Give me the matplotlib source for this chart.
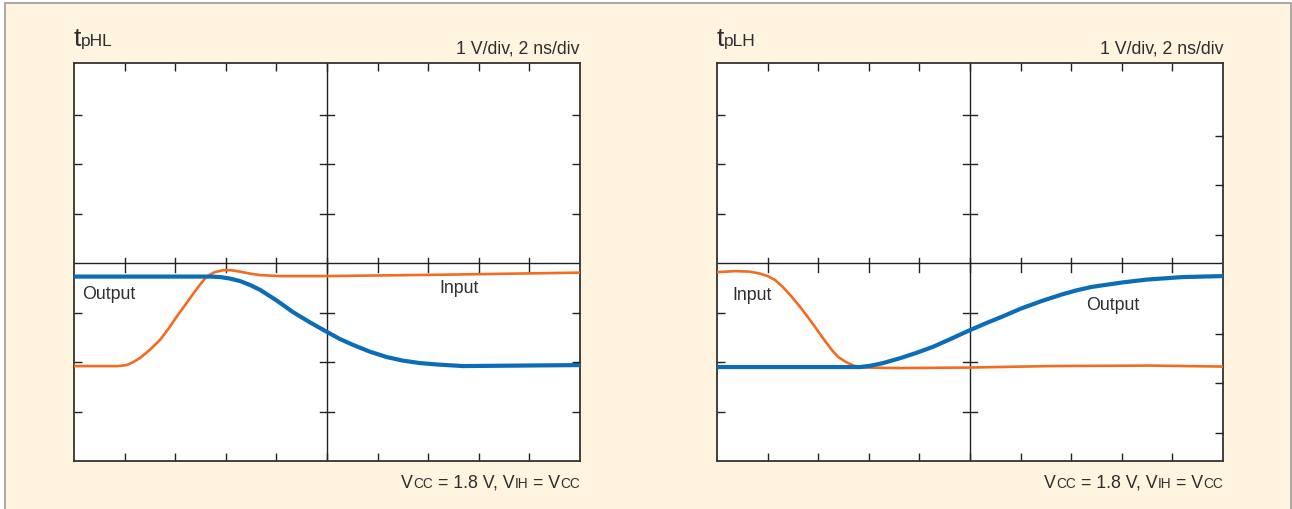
import matplotlib
matplotlib.use('Agg')
import matplotlib.pyplot as plt
from matplotlib.patches import Rectangle

plt.rcParams['font.family'] = ['Liberation Sans', 'DejaVu Sans']

# scope traces, in divisions (x: 2 ns/div, y: 1 V/div from screen bottom)
hl_out_x = [0, 2.69, 2.89, 3.08, 3.28, 3.48, 3.68, 4.0, 4.33, 4.67, 5.0, 5.25, 5.51, 5.85, 6.19, 6.5, 6.84, 7.2, 7.69, 8.81, 10]
hl_out_y = [3.73, 3.73, 3.72, 3.69, 3.64, 3.56, 3.46, 3.25, 3.01, 2.8, 2.61, 2.47, 2.35, 2.21, 2.1, 2.03, 1.98, 1.95, 1.92, 1.93, 1.94]
hl_in_x = [0, 0.87, 1.04, 1.17, 1.30, 1.5, 1.70, 1.87, 2.03, 2.2, 2.36, 2.5, 2.62, 2.78, 2.95, 3.1, 3.28, 3.48, 3.68, 4.07, 4.98, 7.43, 10]
hl_in_y = [1.92, 1.92, 1.94, 2.0, 2.08, 2.25, 2.45, 2.68, 2.92, 3.16, 3.39, 3.58, 3.73, 3.82, 3.86, 3.86, 3.83, 3.79, 3.76, 3.74, 3.74, 3.77, 3.81]

lh_in_x = [0, 0.36, 0.65, 0.85, 1.0, 1.15, 1.3, 1.47, 1.64, 1.81, 1.98, 2.14, 2.29, 2.4, 2.55, 2.7, 2.87, 3.62, 4.98, 6.58, 8.56, 10]
lh_in_y = [3.82, 3.84, 3.83, 3.79, 3.74, 3.66, 3.52, 3.33, 3.12, 2.89, 2.65, 2.42, 2.22, 2.1, 2.0, 1.93, 1.89, 1.88, 1.89, 1.92, 1.93, 1.91]
lh_out_x = [0, 2.83, 3.05, 3.28, 3.62, 3.95, 4.27, 4.6, 4.94, 5.3, 5.66, 6.0, 6.4, 6.82, 7.1, 7.4, 8.0, 8.5, 9.2, 10]
lh_out_y = [1.90, 1.90, 1.93, 1.98, 2.08, 2.19, 2.31, 2.46, 2.62, 2.78, 2.93, 3.08, 3.23, 3.37, 3.45, 3.52, 3.61, 3.67, 3.72, 3.74]

panels = [
    dict(sub='pHL', out=(hl_out_x, hl_out_y), inp=(hl_in_x, hl_in_y),
         out_lbl=(0.16, 3.27), in_lbl=(7.23, 3.39), right_ticks=[1, 2, 3, 5, 6, 7]),
    dict(sub='pLH', out=(lh_out_x, lh_out_y), inp=(lh_in_x, lh_in_y),
         out_lbl=(7.29, 3.05), in_lbl=(0.30, 3.26), right_ticks=[0.56, 1.58, 2.56, 4.58, 5.58, 6.57]),
]

cream = '#fef4e0'
blue = '#0b6db8'
orange = '#f26c20'
txt = '#2e2e2e'
W, H = 1292, 509

fig = plt.figure(figsize=(W / 100, H / 100), dpi=100, facecolor='white')
fig.add_artist(Rectangle((5 / W, -0.1), (1291 - 5) / W, 1.1 - 3 / H, transform=fig.transFigure,
                         facecolor=cream, edgecolor='#9a9a9a', lw=1.2, zorder=-5))

lefts = [74, 717]
for p, left in zip(panels, lefts):
    ax = fig.add_axes([left / W, 48 / H, 506 / W, 398 / H])
    ax.set_facecolor('white')
    ax.set_xlim(0, 10)
    ax.set_ylim(0, 8.05)
    ax.set_xticks(range(1, 10))
    ax.set_yticks([1, 2, 3, 5, 6, 7])
    ax.tick_params(direction='in', length=5.8, width=1, color='#222222',
                   top=True, bottom=True, left=True, right=False,
                   labelbottom=False, labelleft=False)
    for s in ax.spines.values():
        s.set_color('#333333')
        s.set_linewidth(1.3)

    # right edge ticks
    ax2 = ax.twinx()
    ax2.set_ylim(0, 8.05)
    ax2.set_yticks(p['right_ticks'])
    ax2.tick_params(direction='in', length=5.8, width=1, color='#222222', labelright=False)
    for s in ax2.spines.values():
        s.set_visible(False)

    # centre cross with small ticks
    ax.axvline(5, color='#222222', lw=1, zorder=1)
    ax.axhline(4, color='#222222', lw=1, zorder=1)
    for k in range(1, 10):
        ax.plot([k, k], [3.83, 4.1], color='#222222', lw=1, zorder=1)
    for k in [1, 2, 3, 5, 6, 7]:
        ax.plot([4.86, 5.14], [k, k], color='#222222', lw=1, zorder=1)

    ax.plot(*p['inp'], color=orange, lw=1.9, zorder=3, solid_capstyle='butt')
    ax.plot(*p['out'], color=blue, lw=3.0, zorder=4, solid_capstyle='butt')
    ax.text(*p['out_lbl'], 'Output', fontsize=12.8, color=txt, va='baseline', ha='left')
    ax.text(*p['in_lbl'], 'Input', fontsize=12.8, color=txt, va='baseline', ha='left')

    # title t_pHL / t_pLH
    t = ax.text(0, 1.0415, 't', fontsize=19, color=txt, transform=ax.transAxes,
                ha='left', va='baseline')
    ax.annotate(p['sub'], xy=(1, 1.0415), xycoords=(t, ax.transAxes), fontsize=12.5,
                color=txt, ha='left', va='baseline', annotation_clip=False)
    ax.text(1.0, 1.025, '1 V/div, 2 ns/div', fontsize=12.8, color=txt,
            transform=ax.transAxes, ha='right', va='baseline')

    # bottom note: Vcc = 1.8 V, VIH = Vcc
    sp = 0.278 * 12.8
    pieces = [('V', 12.8, 0), ('CC', 9.8, 0), ('= 1.8 V, V', 12.8, sp),
              ('IH', 9.8, 0), ('= V', 12.8, sp), ('CC', 9.8, 0)]
    yb = -0.067
    s, fs, _ = pieces[-1]
    nxt = ax.text(1.0, yb, s, fontsize=fs, color=txt, transform=ax.transAxes,
                  ha='right', va='baseline')
    gap = pieces[-1][2]
    for s, fs, g in reversed(pieces[:-1]):
        nxt = ax.annotate(s, xy=(0, yb), xycoords=(nxt, ax.transAxes),
                          xytext=(-gap, 0), textcoords='offset points',
                          fontsize=fs, color=txt, ha='right', va='baseline',
                          annotation_clip=False)
        gap = g

fig.savefig('out.png', dpi=100, facecolor=fig.get_facecolor())
